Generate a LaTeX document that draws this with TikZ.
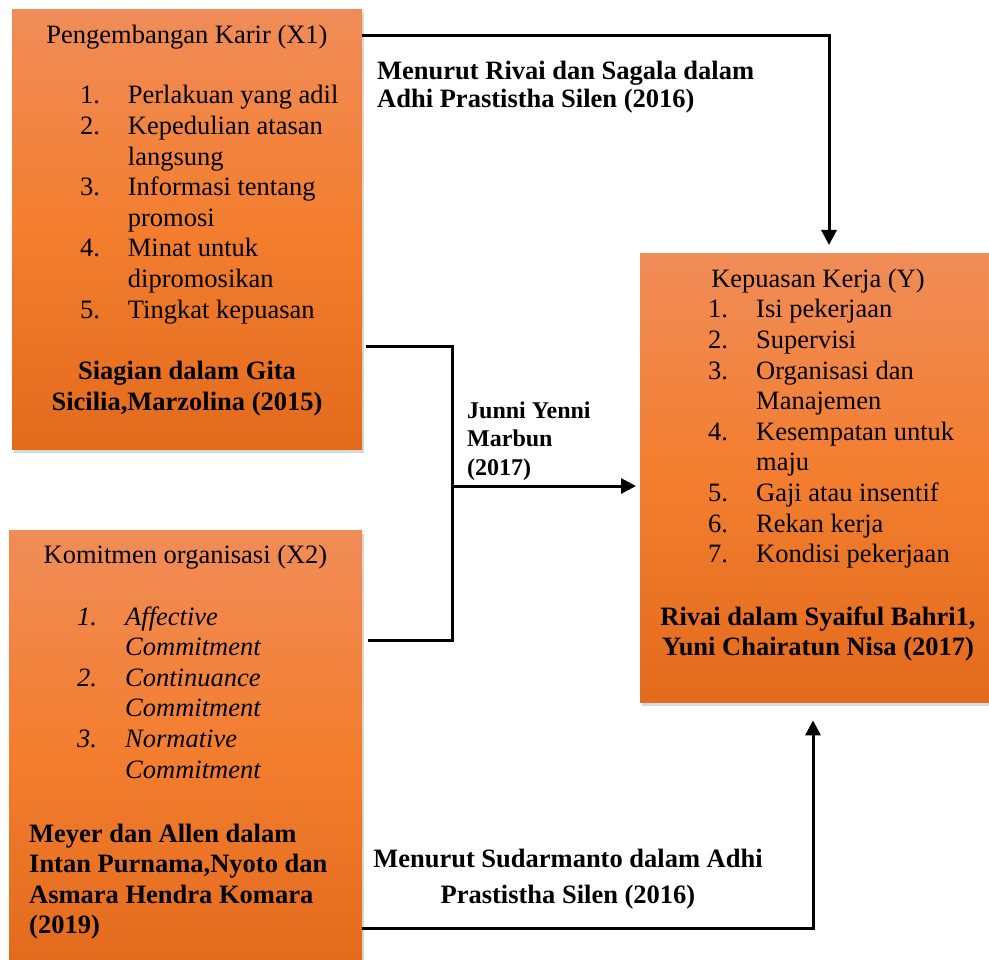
\documentclass[tikz,border=0pt]{standalone}
\usepackage{fontspec}
\setmainfont{Liberation Serif}
\usetikzlibrary{arrows.meta}
\usetikzlibrary{shadows}
\usetikzlibrary{calc}

\definecolor{boxtop}{RGB}{240,140,88}
\definecolor{boxmid}{RGB}{243,126,47}
\definecolor{boxbot}{RGB}{226,106,28}

\tikzset{
    varbox/.style={rectangle, inner sep=0pt, anchor=north west,
        top color=boxtop, bottom color=boxbot, middle color=boxmid,
        drop shadow={shadow xshift=1.5pt, shadow yshift=-3.5pt, opacity=.3}},
    txt/.style={inner sep=0pt, font=\fontsize{26.5}{30.6}\selectfont},
    srctxt/.style={inner sep=0pt, font=\bfseries\fontsize{26.5}{30.6}\selectfont},
    wire/.style={line width=3pt},
    flow/.style={line width=3pt, -{Triangle[length=15pt,width=15pt]}}
}

\begin{document}
\begin{tikzpicture}[x=1pt, y=-1pt]
    \useasboundingbox (0,0) rectangle (989,960);

    \node[varbox, minimum width=350pt, minimum height=440pt] (x1box) at (12,9) {};
    \node[varbox, minimum width=353pt, minimum height=440pt] (x2box) at (9,530) {};
    \node[varbox, minimum width=356pt, minimum height=449pt] (ybox) at (640,253) {};

    \node[txt, anchor=base] (x1title) at (187,44) {Pengembangan Karir (X1)};
    \node[txt, anchor=base west] (x1list) at (80,104) {\begin{tabular}[t]{@{}p{47.7pt}@{}l@{}}
        1. & Perlakuan yang adil\\
        2. & Kepedulian atasan\\
           & langsung\\
        3. & Informasi tentang\\
           & promosi\\
        4. & Minat untuk\\
           & dipromosikan\\
        5. & Tingkat kepuasan
    \end{tabular}};
    \node[srctxt, anchor=base] (x1src) at (187,380) {\begin{tabular}[t]{@{}c@{}}
        Siagian dalam Gita\\
        Sicilia,Marzolina (2015)
    \end{tabular}};

    \node[txt, anchor=base] (x2title) at (185.5,563) {Komitmen organisasi (X2)};
    \node[txt, anchor=base west, font=\itshape\fontsize{26.5}{30.6}\selectfont] (x2list) at (77,625) {\begin{tabular}[t]{@{}p{48pt}@{}l@{}}
        1. & Affective\\
           & Commitment\\
        2. & Continuance\\
           & Commitment\\
        3. & Normative\\
           & Commitment
    \end{tabular}};
    \node[srctxt, anchor=base west] (x2src) at (29,842) {\begin{tabular}[t]{@{}l@{}}
        Meyer dan Allen dalam\\
        Intan Purnama,Nyoto dan\\
        Asmara Hendra Komara\\
        (2019)
    \end{tabular}};

    \node[txt, anchor=base] (ytitle) at (818,288) {Kepuasan Kerja (Y)};
    \node[txt, anchor=base west] (ylist) at (708,318) {\begin{tabular}[t]{@{}p{48pt}@{}l@{}}
        1. & Isi pekerjaan\\
        2. & Supervisi\\
        3. & Organisasi dan\\
           & Manajemen\\
        4. & Kesempatan untuk\\
           & maju\\
        5. & Gaji atau insentif\\
        6. & Rekan kerja\\
        7. & Kondisi pekerjaan
    \end{tabular}};
    \node[srctxt, anchor=base] (ysrc) at (818,625) {\begin{tabular}[t]{@{}c@{}}
        Rivai dalam Syaiful Bahri1,\\
        Yuni Chairatun Nisa (2017)
    \end{tabular}};

    \coordinate (toprun) at (829,36);
    \coordinate (brtop) at (452,347);
    \coordinate (brbot) at (452,640);
    \coordinate (brmid) at (452,486);
    \coordinate (botrun) at (813,928);

    \draw[flow, shorten >=8pt] (x1box.east |- toprun) -- (toprun) -- (toprun |- ybox.north);
    \draw[wire] ([xshift=4pt]x1box.east |- brtop) -- (brtop) -- (brbot) -- ([xshift=6pt]x2box.east |- brbot);
    \draw[flow, shorten >=4pt] (brmid) -- (ybox.west |- brmid);
    \draw[flow, shorten >=18pt] (x2box.east |- botrun) -- (botrun) -- (botrun |- ybox.south);

    \node[srctxt, anchor=base west, font=\bfseries\fontsize{26.5}{28}\selectfont] (toplabel) at (377,80) {\begin{tabular}[t]{@{}l@{}}
        Menurut Rivai dan Sagala dalam\\
        Adhi Prastistha Silen (2016)
    \end{tabular}};
    \node[srctxt, anchor=base west, font=\bfseries\fontsize{24}{28.5}\selectfont] (midlabel) at (467,418) {\begin{tabular}[t]{@{}l@{}}
        Junni Yenni\\
        Marbun\\
        (2017)
    \end{tabular}};
    \node[srctxt, anchor=base, font=\bfseries\fontsize{26.5}{36}\selectfont] (botlabel) at (568,867) {\begin{tabular}[t]{@{}c@{}}
        Menurut Sudarmanto dalam Adhi\\
        Prastistha Silen (2016)
    \end{tabular}};
\end{tikzpicture}
\end{document}
